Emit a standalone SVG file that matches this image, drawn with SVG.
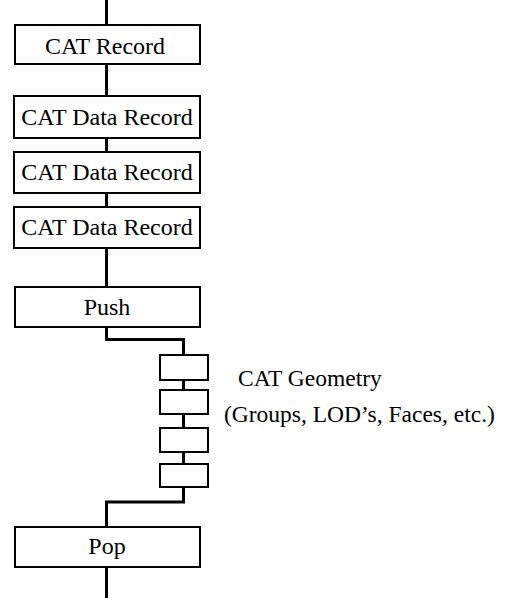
<svg xmlns="http://www.w3.org/2000/svg" width="509" height="598" viewBox="0 0 509 598">
<style>
.box{fill:#fff;stroke:#000;stroke-width:2}
.t{font-family:"Liberation Serif","Times New Roman",serif;font-size:24px;fill:#000}
.l{font-size:23.5px}
.c{text-anchor:middle}
.ln{fill:none;stroke:#000;stroke-width:3}
</style>
<rect width="509" height="598" fill="#fff"/>
<g id="connectors">
<path class="ln" d="M106.5 0V26"/>
<path class="ln" d="M106.5 64V97"/>
<path class="ln" d="M106.5 138V153"/>
<path class="ln" d="M106.5 193V208"/>
<path class="ln" d="M106.5 248V288"/>
<path class="ln" d="M106.5 327V339.5H183.5V356"/>
<path class="ln" d="M183.5 380V391"/>
<path class="ln" d="M183.5 414V429"/>
<path class="ln" d="M183.5 452V465"/>
<path class="ln" d="M183.5 487V502H106.5V527"/>
<path class="ln" d="M106.5 567V598"/>
</g>
<g id="cat-record"><rect class="box" x="15" y="25" width="185" height="39"/><text class="t c" x="105" y="54">CAT Record</text></g>
<g id="data-record-1"><rect class="box" x="14" y="96" width="186" height="42"/><text class="t c" x="107" y="125">CAT Data Record</text></g>
<g id="data-record-2"><rect class="box" x="14" y="152" width="186" height="41"/><text class="t c" x="107" y="180">CAT Data Record</text></g>
<g id="data-record-3"><rect class="box" x="14" y="207" width="186" height="41"/><text class="t c" x="107" y="235">CAT Data Record</text></g>
<g id="push"><rect class="box" x="15" y="287" width="185" height="40"/><text class="t c" x="107" y="315">Push</text></g>
<g id="geom-1"><rect class="box" x="160" y="355" width="48" height="25"/></g>
<g id="geom-2"><rect class="box" x="160" y="390" width="48" height="24"/></g>
<g id="geom-3"><rect class="box" x="160" y="428" width="48" height="24"/></g>
<g id="geom-4"><rect class="box" x="160" y="464" width="48" height="23"/></g>
<g id="geom-label"><text class="t l" x="238" y="386">CAT Geometry</text><text class="t l" x="224" y="422">(Groups, LOD’s, Faces, etc.)</text></g>
<g id="pop"><rect class="box" x="15" y="527" width="185" height="40"/><text class="t c" x="107" y="554">Pop</text></g>
</svg>
